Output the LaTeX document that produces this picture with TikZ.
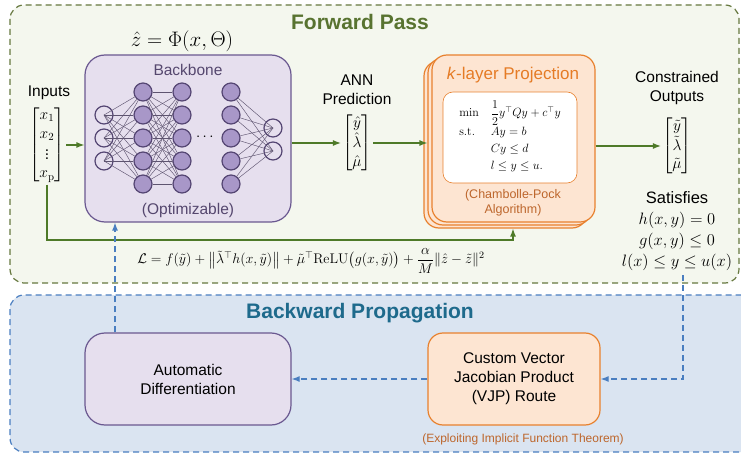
\RequirePackage{fix-cm}
\documentclass[tikz,border=0pt]{standalone}
\usepackage{amsmath,amssymb}
\usepackage[no-math]{fontspec}
\setmainfont{Liberation Sans}
\usepackage{xcolor}
\usetikzlibrary{calc,arrows.meta}
\definecolor{fwdfill}{HTML}{F4F7EE}
\definecolor{fwdline}{HTML}{66783F}
\definecolor{fwdtitle}{HTML}{587330}
\definecolor{bwdfill}{HTML}{DAE4F1}
\definecolor{bwdline}{HTML}{4A7EC0}
\definecolor{bwdtitle}{HTML}{1E6A8C}
\definecolor{flowc}{HTML}{4E7A28}
\definecolor{nnfill}{HTML}{E6DFEE}
\definecolor{nnline}{HTML}{6A5890}
\definecolor{nnnode}{HTML}{A897C8}
\definecolor{nnedge}{HTML}{5E5470}
\definecolor{nntext}{HTML}{55476E}
\definecolor{projfill}{HTML}{FDE5D2}
\definecolor{projline}{HTML}{E8812E}
\definecolor{projtext}{HTML}{E57B25}
\definecolor{projnote}{HTML}{BD662C}
\tikzset{
  panel/.style={rounded corners=14pt, dashed, dash pattern=on 6pt off 4pt, line width=1.2pt},
  ttl/.style={font=\fontsize{21}{25}\selectfont\bfseries},
  lab/.style={font=\fontsize{15.5}{19}\selectfont, align=center},
  note/.style={font=\fontsize{12.5}{15.5}\selectfont, text=projnote, align=center},
  nnbox/.style={draw=nnline, fill=nnfill, line width=1.2pt, rounded corners=20pt,
    minimum width=206pt, minimum height=167pt},
  projbox/.style={draw=projline, fill=projfill, line width=1.2pt, rounded corners=15pt,
    minimum width=163pt, minimum height=167pt},
  qpbox/.style={draw=projline, fill=white, line width=0.6pt, rounded corners=10pt,
    minimum width=134pt, minimum height=91pt, font=\fontsize{12}{14}\selectfont},
  neuron/.style={circle, draw=nnline!80!black, fill=nnnode, line width=1.2pt,
    minimum size=18pt, inner sep=0pt},
  ioneuron/.style={neuron, fill=none},
  syn/.style={draw=nnedge, line width=0.45pt},
  flow/.style={draw=flowc, line width=1.2pt, -{Latex[length=8pt,width=6pt]}},
  back/.style={draw=bwdline, line width=1.2pt, dashed, dash pattern=on 6pt off 4pt,
    -{Latex[length=8pt,width=6pt]}},
  vec/.style={font=\fontsize{15.5}{18.5}\selectfont, inner sep=1pt},
}
\begin{document}
\begin{tikzpicture}[x=1pt,y=-1pt]
  \useasboundingbox (0,0) rectangle (741,454);

  % the two stages
  \draw[panel,draw=fwdline,fill=fwdfill] (10,5) rectangle (739,283);
  \draw[panel,draw=bwdline,fill=bwdfill] (10,295) rectangle (770,452);
  \node[ttl,text=fwdtitle] (fwd) at (360,22) {Forward Pass};
  \node[ttl,text=bwdtitle] (bwd) at (360,313) {Backward Propagation};

  % backbone network
  \node[font=\fontsize{21}{24}\selectfont] (zhat) at (182,41) {$\hat{z}=\Phi(x,\Theta)$};
  \node[nnbox] (backbone) at (188,138.5) {};
  \node[lab,text=nntext] (bbtitle) at (188,70) {Backbone};
  \node[lab,text=nntext] (bbopt) at (188,210) {(Optimizable)};
  \foreach \i in {1,...,3}
    \node[ioneuron] (in\i) at (104,92+23*\i) {};
  \foreach \l/\x in {1/143,2/182,3/231}
    \foreach \i in {1,...,5}
      \node[neuron] (h\l-\i) at (\x,69+23*\i) {};
  \foreach \i in {1,2}
    \node[ioneuron] (out\i) at (273,105+23*\i) {};
  \foreach \i in {1,...,3}
    \foreach \j in {1,...,5}
      \draw[syn] (in\i.center) -- (h1-\j);
  \foreach \i in {1,...,5}
    \foreach \j in {1,...,5}
      \draw[syn] (h1-\i) -- (h2-\j);
  \foreach \i in {1,...,5}
    \foreach \j in {1,2}
      \draw[syn] (h3-\i) -- (out\j.center);
  \node[font=\fontsize{15}{18}\selectfont] (dots) at (206,137) {$\cdots$};

  % inputs and first prediction
  \node[lab] (inlab) at (49,93) {Inputs};
  \node[vec] (xin) at (47,145) {$\begin{bmatrix} x_1\\ x_2\\ \vdots\\ x_{\mathrm{p}} \end{bmatrix}$};
  \node[lab] (annlab) at (357,90) {ANN\\Prediction};
  \node[vec] (ann) at (357,143) {$\begin{bmatrix} \hat{y}\\ \hat{\lambda}\\ \hat{\mu} \end{bmatrix}$};

  % stacked projection layers
  \foreach \s in {2,1}
    \node[projbox] (proj\s) at (513.5-4*\s,138.5+3*\s) {};
  \node[projbox] (proj) at (513.5,138.5) {};
  \node[font=\fontsize{17}{20}\selectfont,text=projtext] (projtitle) at (513,75) {\textit{k}-layer Projection};
  \node[qpbox] (qp) at (510,137.5) {$\begin{array}{@{}l@{\hspace{12pt}}l@{}}
      \min & \dfrac{1}{2}y^{\top}Qy+c^{\top}y\\[5pt]
      \mathrm{s.t.} & Ay=b\\[3pt]
      & Cy\le d\\[3pt]
      & l\le y\le u.
    \end{array}$};
  \node[note] (cp) at (513,203) {(Chambolle-Pock\\Algorithm)};

  % constrained outputs
  \node[lab] (coutlab) at (677,88) {Constrained\\Outputs};
  \node[vec] (cout) at (677,146) {$\begin{bmatrix} \tilde{y}\\ \tilde{\lambda}\\ \tilde{\mu} \end{bmatrix}$};
  \node[lab,font=\fontsize{16.5}{21}\selectfont] (sat) at (677,231) {Satisfies\\ $h(x,y)=0$\\ $g(x,y)\le 0$\\ $l(x)\le y\le u(x)$};

  % loss
  \node[font=\fontsize{14}{17}\selectfont] (loss) at (311,261) {$\mathcal{L}=f(\tilde{y})+\bigl\|\tilde{\lambda}^{\top}h(x,\tilde{y})\bigr\|+\tilde{\mu}^{\top}\mathrm{ReLU}\bigl(g(x,\tilde{y})\bigr)+\dfrac{\alpha}{M}\|\hat{z}-\tilde{z}\|^{2}$};

  % forward connectors
  \draw[flow] (xin.east) -- (xin.east -| backbone.west);
  \draw[flow] (backbone.east |- ann.west) -- (ann.west);
  \draw[flow] (ann.east) -- (ann.east -| proj1.west);
  \draw[flow] (proj.east |- cout.west) -- (cout.west);
  \coordinate (loop) at (513,240);
  \draw[flow] (xin.south) |- (loop) -- (loop |- proj2.south);

  % backward stage
  \node[nnbox,minimum height=92pt,lab] (autodiff) at (188,379) {Automatic\\Differentiation};
  \node[projbox,minimum width=172pt,minimum height=92pt,lab] (vjp) at (514,379) {Custom Vector\\Jacobian Product\\(VJP) Route};
  \node[note,font=\fontsize{12}{14}\selectfont] (ift) at (523,439) {(Exploiting Implicit Function Theorem)};

  \coordinate (tap) at (683,275);
  \coordinate (grad) at (115,0);
  \draw[back] (tap) |- (vjp.east);
  \draw[back] (vjp.west) -- (autodiff.east);
  \draw[back] (autodiff.north -| grad) -- (backbone.south -| grad);
\end{tikzpicture}
\end{document}
